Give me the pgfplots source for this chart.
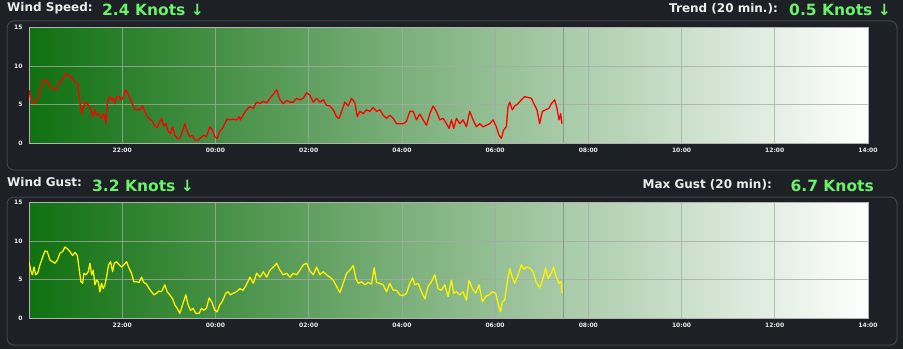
\documentclass[border=0pt]{standalone}
\usepackage{pgfplots}
\usepackage{pgfplotstable}
\pgfplotsset{compat=1.18}
\usepackage{fontspec}
\setmainfont{DejaVu Sans}
\definecolor{bgdark}{RGB}{29,32,37}
\definecolor{panelline}{RGB}{64,69,77}
\definecolor{txtgray}{RGB}{236,236,236}
\definecolor{valgreen}{RGB}{106,242,106}
\definecolor{plotgreen}{RGB}{16,112,16}
\definecolor{gridc}{RGB}{165,172,165}
\definecolor{nowline}{RGB}{140,150,140}

\pgfplotstableread{
h v
20.00 6.85
20.036 5.8
20.071 5.3
20.129 5.2
20.179 5.6
20.221 6.6
20.271 7.5
20.321 8.2
20.379 8.1
20.436 7.5
20.486 7.1
20.557 6.9
20.607 7.1
20.65 7.9
20.721 8.2
20.786 9.0
20.843 8.8
20.914 8.5
20.986 7.9
21.043 7.7
21.079 6.0
21.129 3.8
21.164 4.7
21.221 5.3
21.271 4.9
21.321 4.5
21.364 3.4
21.414 4.3
21.45 3.6
21.507 3.8
21.557 3.2
21.607 3.8
21.65 2.5
21.679 5.1
21.721 6.0
21.771 5.6
21.807 5.8
21.843 5.1
21.879 6.0
21.936 6.0
21.986 5.6
22.036 6.2
22.079 6.9
22.129 6.3
22.179 5.6
22.236 4.8
22.286 4.3
22.343 4.4
22.379 4.3
22.436 4.8
22.486 4.1
22.536 3.4
22.593 3.1
22.65 2.8
22.70 2.2
22.75 2.0
22.793 2.6
22.843 3.2
22.893 2.2
22.936 2.5
22.986 1.5
23.036 1.25
23.079 2.1
23.129 1.0
23.179 0.6
23.236 0.6
23.293 1.5
23.343 2.5
23.393 1.5
23.45 0.8
23.507 1.0
23.557 0.4
23.629 0.4
23.70 0.8
23.75 1.0
23.807 0.8
23.879 2.1
23.936 1.7
23.986 0.8
24.036 0.6
24.093 1.5
24.15 1.9
24.20 2.5
24.25 3.1
24.307 3.0
24.379 3.1
24.45 3.0
24.507 3.4
24.536 3.0
24.593 3.6
24.664 4.3
24.74 4.7
24.813 4.5
24.884 5.3
24.956 5.1
25.027 5.4
25.099 5.2
25.17 5.8
25.241 6.3
25.313 6.9
25.384 5.6
25.456 5.1
25.527 5.5
25.599 5.3
25.67 5.3
25.741 5.8
25.813 5.6
25.884 5.8
25.956 6.5
26.027 6.2
26.099 5.3
26.17 5.8
26.241 5.3
26.313 5.6
26.384 4.9
26.456 4.8
26.527 4.3
26.599 3.4
26.656 3.2
26.706 4.1
26.777 5.3
26.849 4.8
26.92 5.8
26.992 5.2
27.042 3.4
27.099 4.1
27.17 3.8
27.241 4.3
27.313 4.1
27.384 4.6
27.456 4.1
27.527 4.3
27.599 3.6
27.67 3.2
27.741 3.6
27.813 3.2
27.884 2.5
27.956 2.5
28.027 2.5
28.099 2.8
28.17 4.1
28.241 4.1
28.313 3.0
28.384 3.75
28.456 3.0
28.527 2.3
28.599 3.8
28.67 4.8
28.741 4.1
28.813 3.0
28.884 3.2
28.956 2.5
29.013 1.9
29.063 3.0
29.113 1.9
29.17 3.2
29.241 2.5
29.313 3.0
29.384 2.1
29.456 4.1
29.527 3.0
29.599 2.1
29.67 2.5
29.741 2.1
29.813 2.3
29.884 2.5
29.956 3.0
30.027 2.1
30.084 1.0
30.134 0.6
30.184 1.7
30.241 2.1
30.277 4.7
30.313 5.3
30.37 4.3
30.42 4.8
30.492 5.1
30.563 5.6
30.634 6.0
30.706 5.9
30.777 5.8
30.849 4.9
30.899 4.3
30.956 2.5
31.013 4.1
31.084 4.3
31.156 4.5
31.206 5.1
31.277 5.6
31.327 4.5
31.37 3.0
31.406 3.8
31.434 2.5
}\speedtable

\pgfplotstableread{
h v
20.00 7.3
20.036 6.2
20.071 5.6
20.107 6.6
20.143 5.6
20.186 5.8
20.236 6.9
20.293 7.9
20.343 8.7
20.393 8.6
20.45 7.5
20.507 7.3
20.557 7.1
20.607 7.5
20.664 8.4
20.721 8.6
20.771 9.2
20.821 9.0
20.879 8.6
20.936 8.1
20.986 8.5
21.036 8.1
21.071 6.6
21.114 4.7
21.15 4.5
21.179 5.8
21.221 5.6
21.271 6.0
21.307 7.1
21.343 5.6
21.379 6.2
21.414 4.3
21.45 4.9
21.486 4.7
21.521 3.4
21.557 4.5
21.593 3.8
21.629 4.3
21.664 5.3
21.707 6.9
21.75 7.3
21.793 6.0
21.829 7.1
21.879 7.3
21.936 6.9
21.986 6.6
22.036 6.9
22.093 7.3
22.15 6.4
22.20 5.8
22.25 4.7
22.307 4.7
22.364 4.6
22.414 5.3
22.464 4.6
22.521 4.4
22.579 3.8
22.629 3.4
22.679 3.0
22.736 3.2
22.793 3.5
22.843 3.4
22.914 4.3
22.964 3.4
23.021 3.0
23.079 2.5
23.129 1.7
23.179 1.25
23.236 0.6
23.293 1.7
23.364 3.0
23.414 1.7
23.464 1.0
23.521 1.25
23.579 0.6
23.65 0.6
23.70 1.25
23.75 1.0
23.807 1.25
23.864 2.6
23.921 2.1
23.986 1.0
24.036 0.8
24.093 1.7
24.15 2.2
24.221 3.2
24.271 3.4
24.321 3.0
24.379 3.2
24.45 3.4
24.521 3.8
24.593 3.6
24.664 4.3
24.74 5.3
24.813 4.5
24.884 5.8
24.956 5.3
25.027 6.0
25.099 5.3
25.17 6.2
25.241 6.6
25.313 7.1
25.384 6.2
25.456 5.6
25.527 5.8
25.599 5.3
25.67 5.8
25.741 5.6
25.813 6.2
25.884 6.9
25.956 7.1
26.027 6.1
26.099 5.6
26.17 6.6
26.241 5.6
26.313 6.0
26.384 5.6
26.456 5.3
26.527 4.9
26.599 4.1
26.67 3.3
26.741 4.5
26.813 5.8
26.884 6.2
26.956 6.8
27.013 5.1
27.063 4.5
27.134 4.7
27.206 4.3
27.277 4.6
27.349 4.4
27.406 6.5
27.456 4.6
27.527 4.5
27.599 4.3
27.67 3.4
27.741 4.5
27.813 3.6
27.884 3.6
27.956 3.0
28.027 2.9
28.099 3.2
28.17 4.5
28.227 5.2
28.277 4.3
28.349 4.5
28.42 3.4
28.492 2.5
28.563 4.1
28.634 4.7
28.706 5.6
28.777 3.8
28.849 3.6
28.92 4.3
28.992 2.8
29.063 4.9
29.113 3.2
29.17 3.4
29.241 3.0
29.313 3.4
29.384 2.3
29.441 4.9
29.513 3.8
29.584 3.2
29.656 4.3
29.727 2.1
29.799 2.8
29.87 3.0
29.942 3.4
30.013 3.2
30.063 1.9
30.113 0.8
30.156 2.1
30.206 2.3
30.256 4.5
30.313 6.4
30.37 5.3
30.42 4.5
30.492 5.6
30.563 6.9
30.613 6.3
30.67 6.6
30.741 6.5
30.813 6.0
30.884 4.6
30.956 3.9
31.027 5.1
31.084 6.5
31.134 5.1
31.206 5.8
31.256 6.6
31.313 5.3
31.37 4.5
31.42 4.7
31.434 3.2
}\gusttable

\pgfplotsset{windstyle/.style={
  scale only axis, width=839pt, height=115.7pt, anchor=south west,
  xmin=20, xmax=38, ymin=0, ymax=15,
  xtick={22,24,26,28,30,32,34,36,38},
  xticklabels={22:00,00:00,02:00,04:00,06:00,08:00,10:00,12:00,14:00},
  ytick={0,5,10,15}, yticklabels={0,5,10,15},
  major tick length=0pt,
  tick label style={font=\fontsize{6}{7}\selectfont\bfseries, text=txtgray},
  yticklabel style={xshift=-3pt},
  xticklabel style={yshift=-1.5pt},
  grid=major, grid style={draw=gridc, opacity=0.75, line width=0.6pt},
  axis line style={draw=gray!60!white, line width=0.8pt},
  axis background/.style={left color=plotgreen, right color=white},
}}

\begin{document}
\begin{tikzpicture}
\fill[bgdark] (0pt,0pt) rectangle (903pt,349pt);
\draw[panelline, rounded corners=7pt, line width=1pt] (7pt,179pt) rectangle (897pt,328pt);
\draw[panelline, rounded corners=7pt, line width=1pt] (7pt,4pt) rectangle (897pt,152pt);

\node[anchor=base west, inner sep=0pt, text=txtgray, font=\fontsize{12}{14}\selectfont\bfseries] at (7pt,337pt) {Wind Speed:};
\node[anchor=base west, inner sep=0pt, text=valgreen, font=\fontsize{15.5}{18}\selectfont\bfseries] at (102pt,333pt) {2.4 Knots ↓};
\node[anchor=base east, inner sep=0pt, text=txtgray, font=\fontsize{12}{14}\selectfont\bfseries] at (778pt,336.3pt) {Trend (20 min.):};
\node[anchor=base east, inner sep=0pt, text=valgreen, font=\fontsize{15.5}{18}\selectfont\bfseries] at (891pt,333pt) {0.5 Knots ↓};

\node[anchor=base west, inner sep=0pt, text=txtgray, font=\fontsize{12}{14}\selectfont\bfseries] at (7pt,162.3pt) {Wind Gust:};
\node[anchor=base west, inner sep=0pt, text=valgreen, font=\fontsize{15.5}{18}\selectfont\bfseries] at (92pt,158pt) {3.2 Knots ↓};
\node[anchor=base east, inner sep=0pt, text=txtgray, font=\fontsize{12}{14}\selectfont\bfseries] at (772pt,161pt) {Max Gust (20 min):};
\node[anchor=base east, inner sep=0pt, text=valgreen, font=\fontsize{15.5}{18}\selectfont\bfseries] at (874pt,158pt) {6.7 Knots};

\begin{axis}[windstyle, at={(29pt,206pt)}]
\addplot[nowline, line width=0.8pt] coordinates {(31.46,0) (31.46,15)};
\addplot[red, line width=1.3pt, line join=round] table[x=h, y=v] {\speedtable};
\end{axis}

\begin{axis}[windstyle, at={(29pt,31pt)}]
\addplot[nowline, line width=0.8pt] coordinates {(31.46,0) (31.46,15)};
\addplot[yellow, line width=1.3pt, line join=round] table[x=h, y=v] {\gusttable};
\end{axis}

\pgfresetboundingbox
\path[use as bounding box] (0pt,0pt) rectangle (903pt,349pt);
\end{tikzpicture}
\end{document}
